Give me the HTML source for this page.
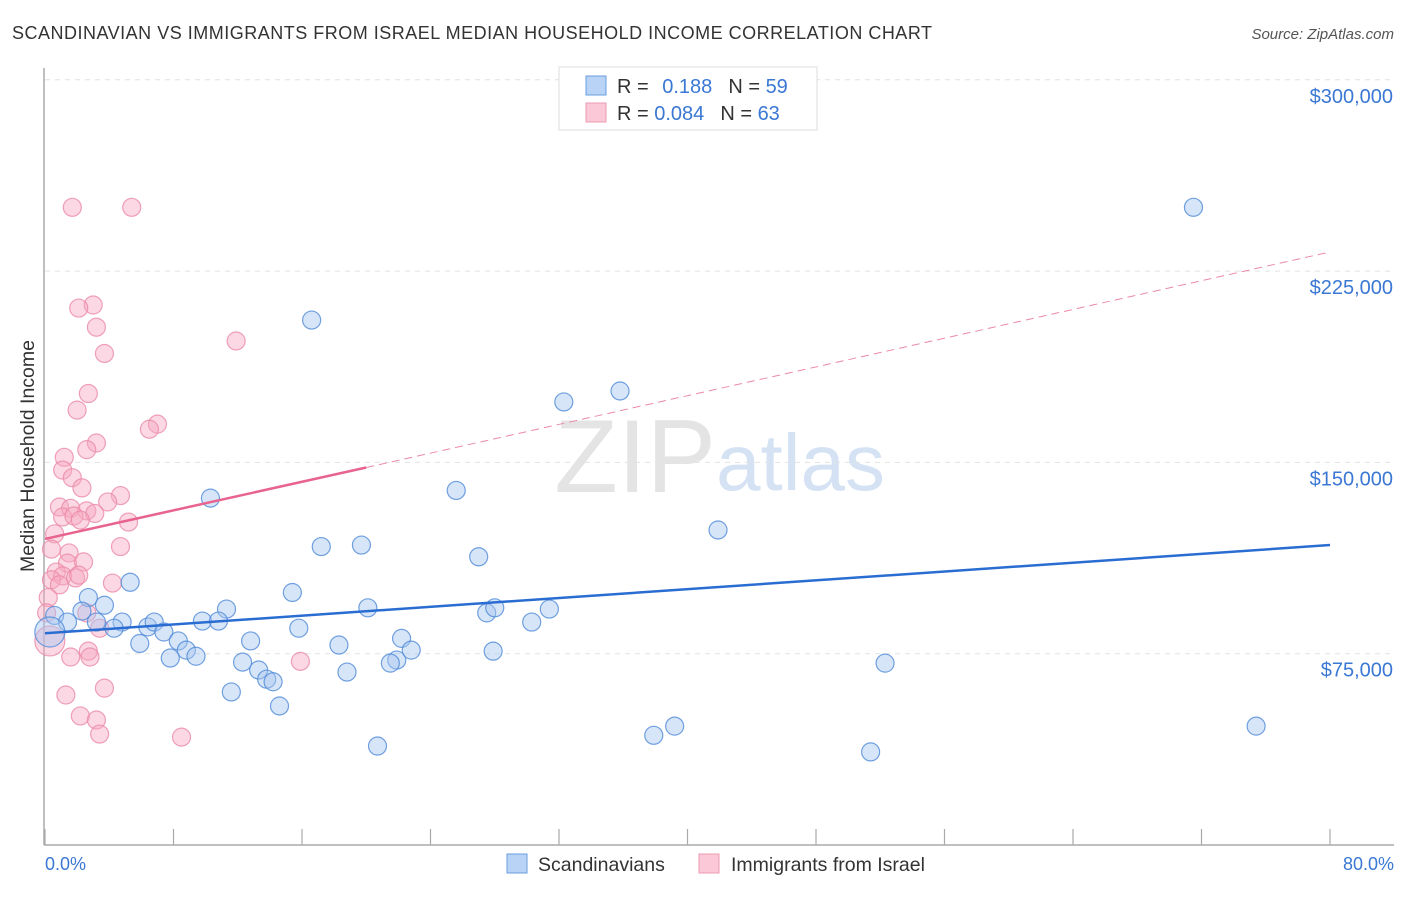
<!DOCTYPE html>
<html><head><meta charset="utf-8"><style>
body{margin:0;background:#fff;font-family:"Liberation Sans",sans-serif}
svg text{font-family:"Liberation Sans",sans-serif}
</style></head><body>
<svg id="chart" width="1406" height="892">
<text x="12" y="39" font-size="18" fill="#333" textLength="920">SCANDINAVIAN VS IMMIGRANTS FROM ISRAEL MEDIAN HOUSEHOLD INCOME CORRELATION CHART</text>
<text x="1394" y="39" font-size="15" fill="#555" font-style="italic" text-anchor="end">Source: ZipAtlas.com</text>
<text x="716" y="492" font-size="104" fill="#e4e4e4" text-anchor="end" font-family="Liberation Serif">ZIP</text>
<text x="716" y="490" font-size="80" fill="#d4e2f4">atlas</text>
<g id="grid"></g><g id="axes"></g><g id="marks"></g>
<text transform="translate(34,456) rotate(-90)" font-size="19.5" fill="#333" text-anchor="middle">Median Household Income</text>
<text x="45" y="870" font-size="18" fill="#3a78d4">0.0%</text>
<text x="1394" y="870" font-size="18" fill="#3a78d4" text-anchor="end">80.0%</text>
<g>
<rect x="559" y="67" width="258" height="63" fill="#fff" stroke="#ddd"/>
<rect x="586" y="76" width="20" height="19" fill="#b8d3f5" stroke="#6a9ee0"/>
<rect x="586" y="103" width="20" height="19" fill="#fac8d6" stroke="#ec9ab2"/>
<text x="617" y="93" font-size="20" fill="#333">R = <tspan fill="#3a78d4" dx="8">0.188</tspan><tspan dx="16" fill="#333">N = </tspan><tspan fill="#3a78d4">59</tspan></text>
<text x="617" y="120" font-size="20" fill="#333">R = <tspan fill="#3a78d4">0.084</tspan><tspan dx="16" fill="#333">N = </tspan><tspan fill="#3a78d4">63</tspan></text>
</g>
<g>
<rect x="507" y="854" width="20" height="19" fill="#b8d3f5" stroke="#6a9ee0"/>
<text x="538" y="871" font-size="19.5" fill="#333">Scandinavians</text>
<rect x="699" y="854" width="20" height="19" fill="#fac8d6" stroke="#ec9ab2"/>
<text x="731" y="871" font-size="19.5" fill="#333">Immigrants from Israel</text>
</g>
</svg>
<script>
const yTicks=[75000,150000,225000,300000];
const yTickLabels=["$75,000","$150,000","$225,000","$300,000"];
const xTicks=[0,8,16,24,32,40,48,56,64,72,80];
const blueX=[71.5,16.6,32.3,35.8,25.6,10.3,41.9,17.2,19.7,27.0,5.3,15.4,2.7,3.7,20.1,11.3,27.5,28.0,31.4,0.6,2.3,1.4,3.2,4.8,4.3,6.4,6.8,9.8,10.8,7.4,15.8,30.3,5.9,8.3,12.8,18.3,22.2,8.8,9.4,7.8,12.3,13.3,13.8,14.2,21.9,21.5,22.8,27.9,18.8,52.3,11.6,14.6,20.7,37.9,39.2,75.4,51.4,0.3];
const blueY=[250000,205800,173700,178000,139000,136000,123500,117000,117600,113000,103000,99000,97000,94000,93000,92500,91000,93000,92500,90000,91700,87400,87400,87400,85000,85500,87400,87800,87800,83500,85000,87400,79000,80000,80000,78400,81000,76400,74000,73300,71700,68600,65000,64000,72500,71300,76400,76000,67800,71300,60000,54500,38800,43000,46600,46600,36500,83500];
const pinkX=[1.7,5.4,3.0,2.1,3.2,11.9,3.7,2.7,2.0,7.0,6.5,3.2,2.6,1.2,1.1,1.7,2.3,4.7,3.9,0.9,1.6,2.6,1.1,1.8,3.1,2.2,5.2,0.6,0.4,4.7,1.5,1.4,2.4,0.7,1.1,0.4,1.9,0.9,2.1,4.2,0.2,0.1,2.6,3.4,1.6,2.7,2.8,15.9,1.3,3.7,2.2,3.2,3.4,8.5,0.3];
const pinkY=[250000,250000,211700,210500,203000,197600,192700,177000,170500,165000,163000,157600,155000,152000,147000,144000,140000,137000,134500,132500,132000,131000,128600,129000,130000,127400,126600,122000,116000,117000,114500,110500,111000,107000,105500,104000,104700,102000,105800,102700,97000,91000,91000,85000,73700,76000,73700,72000,58800,61500,50600,49000,43500,42300,80000];
const blueTrend=[[0,83000],[80,117600]];
const pinkTrend=[[0,120000],[20,148000],[80,232500]];
const X=v=>45+v/80*1285, Y=v=>845-v/75000*191.3;
const NS="http://www.w3.org/2000/svg";
function mk(tag,attrs,parent){const e=document.createElementNS(NS,tag);for(const k in attrs)e.setAttribute(k,attrs[k]);document.getElementById(parent).appendChild(e);return e;}
yTicks.forEach((t,i)=>{
 const l=mk('line',{x1:45,x2:1394,y1:Y(t),y2:Y(t),stroke:'#e2e2e2','stroke-dasharray':'5,5'},'grid');
 
 
 const tx=mk('text',{x:1393,y:Y(t)+23,'font-size':20,fill:'#3a78d4','text-anchor':'end'},'axes');
 tx.textContent=yTickLabels[i];
 
 
});
const ya=mk('line',{x1:44,x2:44,y1:68,y2:845,stroke:'#aaa','stroke-width':1.5},'axes');


const xa=mk('line',{x1:44,x2:1394,y1:845,y2:845,stroke:'#aaa','stroke-width':1.5},'axes');


xTicks.forEach(t=>{
 const l=mk('line',{x1:X(t),x2:X(t),y1:829,y2:845,stroke:'#aaa','stroke-width':1.2},'axes');
 
 
});
function dots(xs,ys,fill,stroke,name){
 xs.forEach((x,i)=>{
  const big=(i===xs.length-1);
  const c=mk('circle',{cx:X(x),cy:Y(ys[i]),r:big?15:9,fill:fill,'fill-opacity':0.45,stroke:stroke,'stroke-width':1.2,'stroke-opacity':0.8},'marks');
  
  
 });
}
dots(pinkX,pinkY,'#f7a8c0','#eb8aa8','israel-point');
dots(blueX,blueY,'#a6c6f0','#4f8ad8','scandinavian-point');
const bl=mk('line',{x1:X(blueTrend[0][0]),y1:Y(blueTrend[0][1]),x2:X(blueTrend[1][0]),y2:Y(blueTrend[1][1]),stroke:'#2a6dd2','stroke-width':2.5},'marks');


const ps=mk('line',{x1:X(pinkTrend[0][0]),y1:Y(pinkTrend[0][1]),x2:X(pinkTrend[1][0]),y2:Y(pinkTrend[1][1]),stroke:'#e8648e','stroke-width':2.5},'marks');


const pd=mk('line',{x1:X(pinkTrend[1][0]),y1:Y(pinkTrend[1][1]),x2:X(pinkTrend[2][0]),y2:Y(pinkTrend[2][1]),stroke:'#eb8aa8','stroke-width':1,'stroke-dasharray':'8,5'},'marks');


</script>
</body></html>
